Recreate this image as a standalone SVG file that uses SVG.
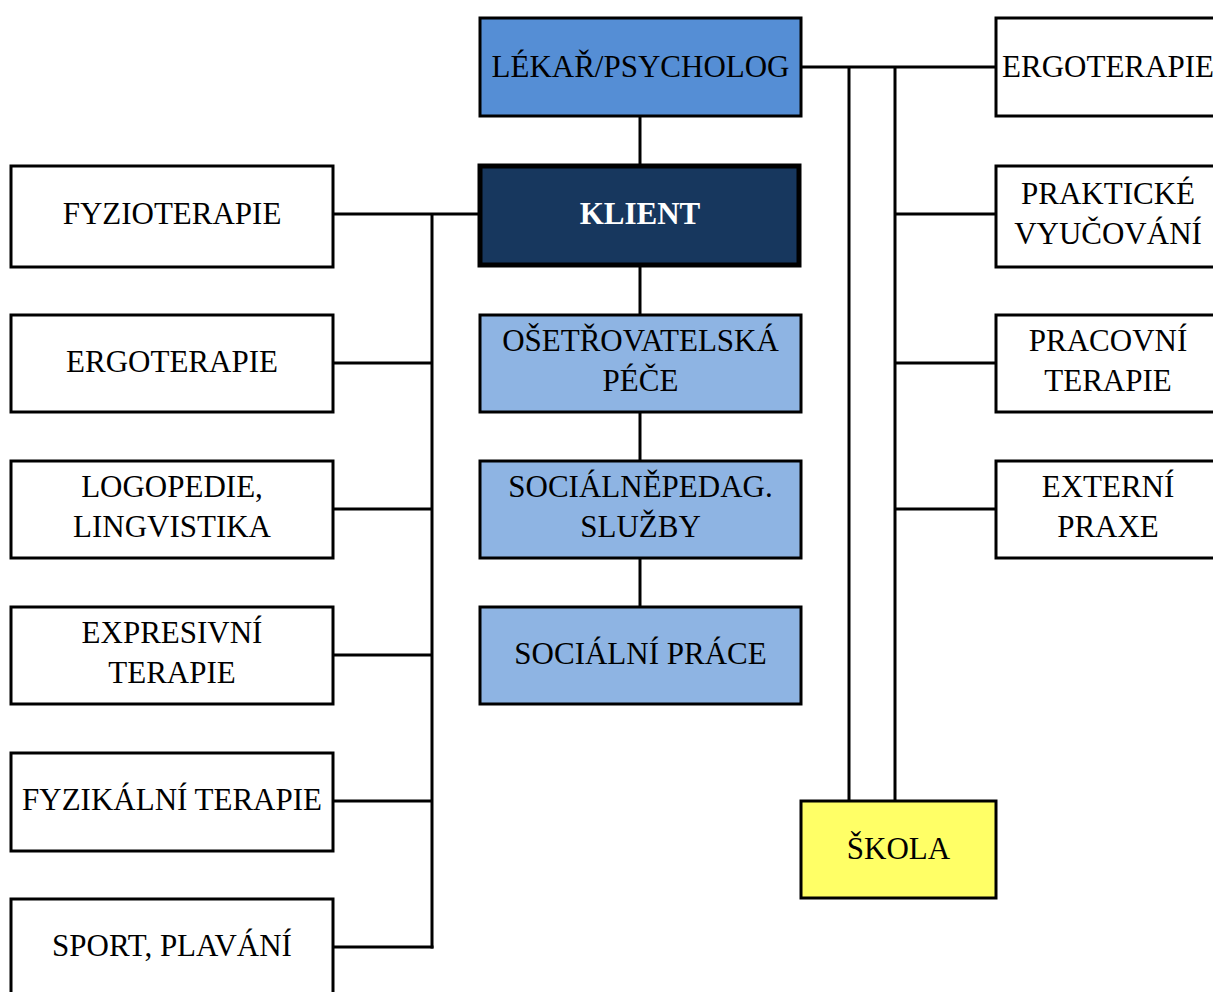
<svg xmlns="http://www.w3.org/2000/svg" width="1213" height="992" viewBox="0 0 1213 992">
<style>
.box{stroke:#000;stroke-width:3;}
.w{fill:#fff;}
.mid{fill:#558ED5;}
.light{fill:#8EB4E3;}
.dark{fill:#17375E;stroke-width:5;}
.yel{fill:#FFFF66;}
text{font-family:"Liberation Serif","Times New Roman",serif;font-size:31px;fill:#000;text-anchor:middle;}
.wt{fill:#fff;font-weight:bold;}
.con line{stroke:#000;stroke-width:3;}
</style>
<rect width="1213" height="992" fill="#fff"/>
<g class="con">
<line x1="640" y1="116" x2="640" y2="164"/>
<line x1="640" y1="267" x2="640" y2="315"/>
<line x1="640" y1="412" x2="640" y2="461"/>
<line x1="640" y1="558" x2="640" y2="607"/>
<line x1="333" y1="214" x2="478" y2="214"/>
<line x1="432" y1="214" x2="432" y2="948.5"/>
<line x1="333" y1="363" x2="432" y2="363"/>
<line x1="333" y1="509" x2="432" y2="509"/>
<line x1="333" y1="655" x2="432" y2="655"/>
<line x1="333" y1="801" x2="432" y2="801"/>
<line x1="333" y1="947" x2="433.5" y2="947"/>
<line x1="801" y1="67" x2="996" y2="67"/>
<line x1="849" y1="67" x2="849" y2="801"/>
<line x1="895" y1="67" x2="895" y2="801"/>
<line x1="895" y1="214" x2="996" y2="214"/>
<line x1="895" y1="363" x2="996" y2="363"/>
<line x1="895" y1="509" x2="996" y2="509"/>
</g>
<g id="lekar"><rect class="box mid" x="480" y="18" width="321" height="98"/><text x="640.5" y="77">LÉKAŘ/PSYCHOLOG</text></g>
<g id="klient"><rect class="box dark" x="480" y="166" width="319" height="99"/><text class="wt" x="640" y="224">KLIENT</text></g>
<g id="osetrovatelska"><rect class="box light" x="480" y="315" width="321" height="97"/><text x="640.5" y="351">OŠETŘOVATELSKÁ</text><text x="640.5" y="391">PÉČE</text></g>
<g id="socialnepedag"><rect class="box light" x="480" y="461" width="321" height="97"/><text x="640.5" y="497">SOCIÁLNĚPEDAG.</text><text x="640.5" y="537">SLUŽBY</text></g>
<g id="socialniprace"><rect class="box light" x="480" y="607" width="321" height="97"/><text x="640.5" y="664">SOCIÁLNÍ PRÁCE</text></g>
<g id="fyzioterapie"><rect class="box w" x="11" y="166" width="322" height="101"/><text x="172" y="224">FYZIOTERAPIE</text></g>
<g id="ergoterapie-l"><rect class="box w" x="11" y="315" width="322" height="97"/><text x="172" y="372">ERGOTERAPIE</text></g>
<g id="logopedie"><rect class="box w" x="11" y="461" width="322" height="97"/><text x="172" y="497">LOGOPEDIE,</text><text x="172" y="537">LINGVISTIKA</text></g>
<g id="expresivni"><rect class="box w" x="11" y="607" width="322" height="97"/><text x="172" y="643">EXPRESIVNÍ</text><text x="172" y="683">TERAPIE</text></g>
<g id="fyzikalni"><rect class="box w" x="11" y="753" width="322" height="98"/><text x="172" y="810">FYZIKÁLNÍ TERAPIE</text></g>
<g id="sport"><rect class="box w" x="11" y="899" width="322" height="97"/><text x="172" y="956">SPORT, PLAVÁNÍ</text></g>
<g id="ergoterapie-r"><rect class="box w" x="996" y="18" width="226" height="98"/><text x="1108" y="77">ERGOTERAPIE</text></g>
<g id="prakticke"><rect class="box w" x="996" y="166" width="226" height="101"/><text x="1108" y="204">PRAKTICKÉ</text><text x="1108" y="244">VYUČOVÁNÍ</text></g>
<g id="pracovni"><rect class="box w" x="996" y="315" width="226" height="97"/><text x="1108" y="351">PRACOVNÍ</text><text x="1108" y="391">TERAPIE</text></g>
<g id="externi"><rect class="box w" x="996" y="461" width="226" height="97"/><text x="1108" y="497">EXTERNÍ</text><text x="1108" y="537">PRAXE</text></g>
<g id="skola"><rect class="box yel" x="801" y="801" width="195" height="97"/><text x="898.5" y="859">ŠKOLA</text></g>
</svg>
